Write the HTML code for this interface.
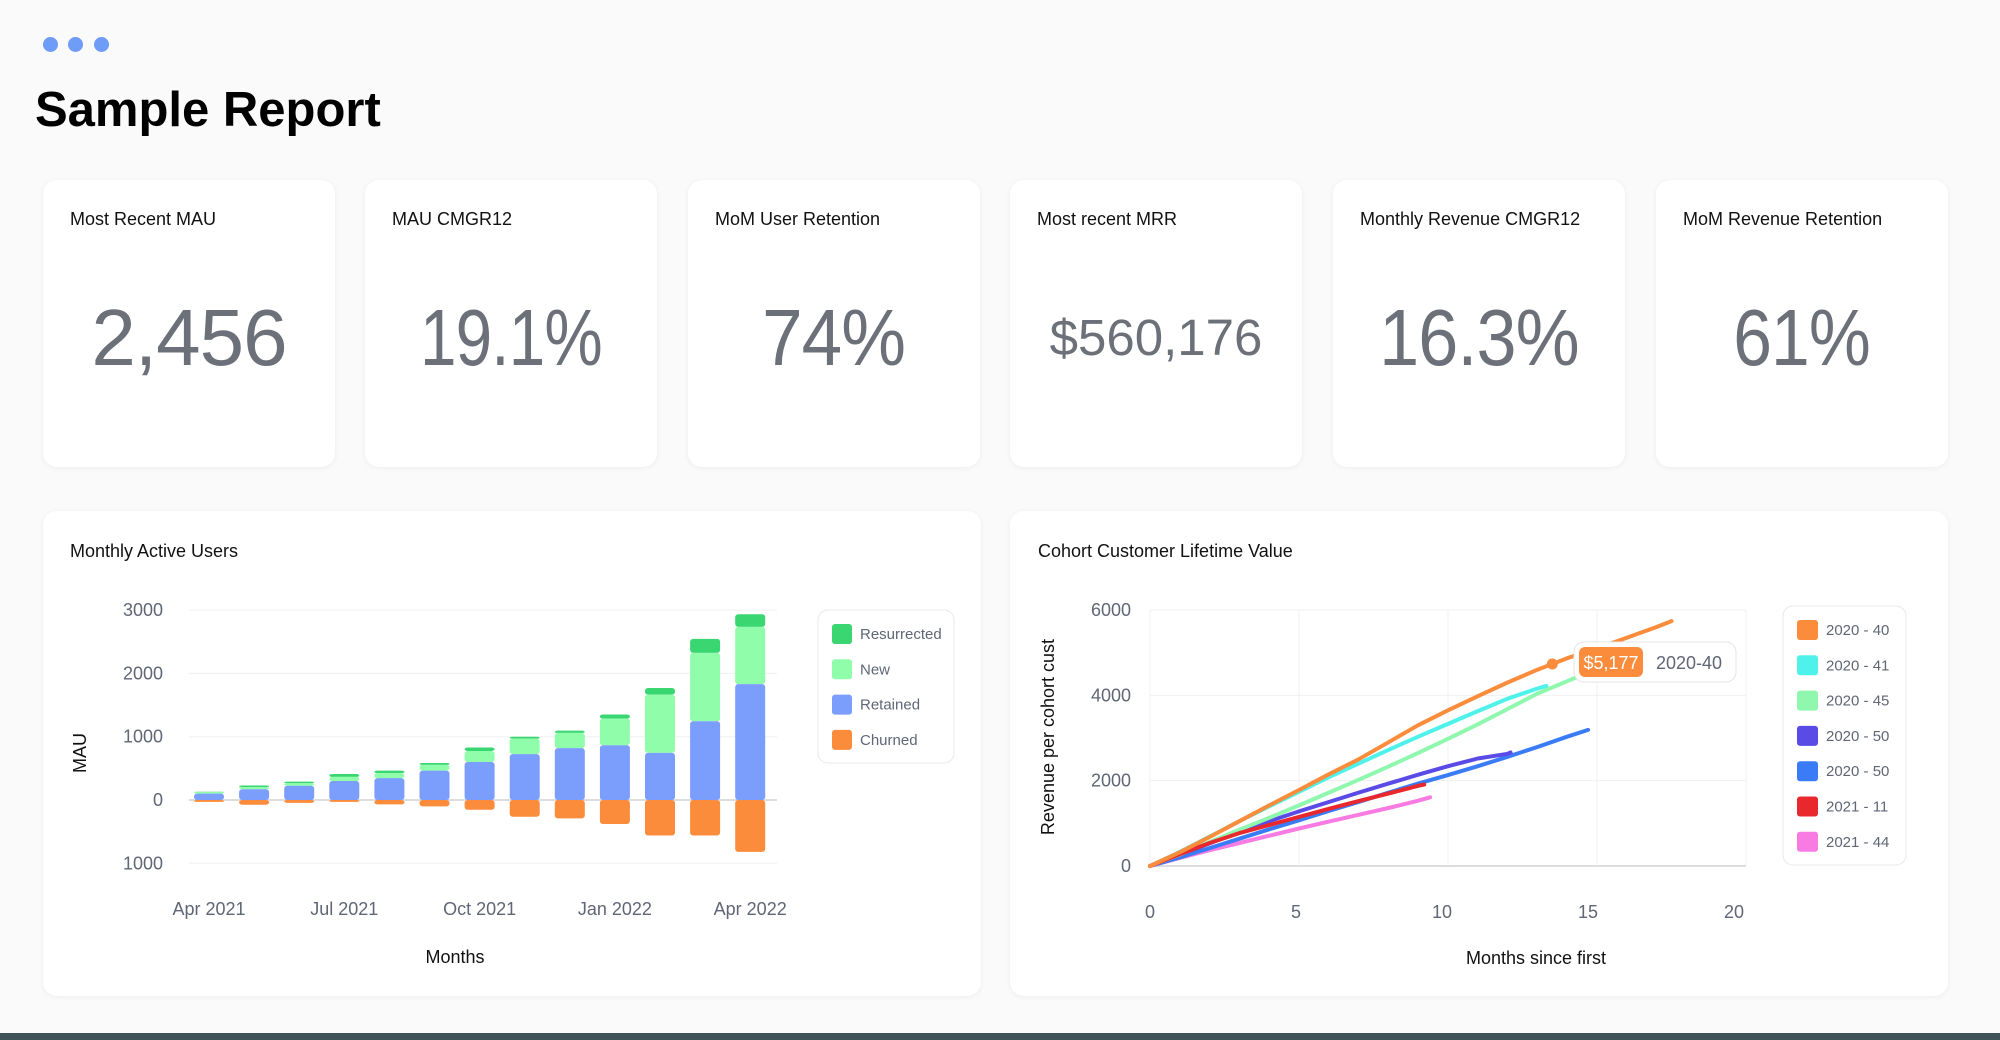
<!DOCTYPE html>
<html><head><meta charset="utf-8"><style>
body{margin:0;width:2000px;height:1040px;background:#fafafa;font-family:"Liberation Sans",sans-serif;position:relative;overflow:hidden}
.dot{position:absolute;top:37px;width:15px;height:15px;border-radius:50%;background:#6f9cf6}
.card{position:absolute;background:#fff;border-radius:14px;box-shadow:0 1px 6px rgba(0,0,0,0.06)}
.kpi{top:180px;width:292px;height:287px}
.kl{position:absolute;left:27px;top:29px;font-size:18px;color:#111}
.kv{position:absolute;left:0;right:0;top:288px;text-align:center;font-size:80px;color:#6b7079;letter-spacing:-1px;line-height:1}
.kv span{display:inline-block}
.ct{position:absolute;font-size:18px;color:#111}
svg{position:absolute;left:0;top:0}
</style></head><body>
<div class="dot" style="left:43px"></div>
<div class="dot" style="left:68px"></div>
<div class="dot" style="left:94px"></div>
<div style="position:absolute;left:35px;top:82px;font-size:49px;font-weight:bold;color:#000">Sample Report</div>

<div class="card kpi" style="left:43px"><div class="kl">Most Recent MAU</div><div class="kv" style="top:118px">2,456</div></div>
<div class="card kpi" style="left:365px"><div class="kl">MAU CMGR12</div><div class="kv" style="top:118px"><span style="transform:scaleX(0.82)">19.1%</span></div></div>
<div class="card kpi" style="left:688px"><div class="kl">MoM User Retention</div><div class="kv" style="top:118px"><span style="transform:scaleX(0.91)">74%</span></div></div>
<div class="card kpi" style="left:1010px"><div class="kl">Most recent MRR</div><div class="kv" style="top:132px;font-size:51px;letter-spacing:0">$560,176</div></div>
<div class="card kpi" style="left:1333px"><div class="kl">Monthly Revenue CMGR12</div><div class="kv" style="top:118px"><span style="transform:scaleX(0.9)">16.3%</span></div></div>
<div class="card kpi" style="left:1656px"><div class="kl">MoM Revenue Retention</div><div class="kv" style="top:118px"><span style="transform:scaleX(0.87)">61%</span></div></div>

<div class="card" style="left:43px;top:511px;width:938px;height:485px"></div>
<div class="card" style="left:1010px;top:511px;width:938px;height:485px"></div>
<div class="ct" style="left:70px;top:541px">Monthly Active Users</div>
<div class="ct" style="left:1038px;top:541px">Cohort Customer Lifetime Value</div>
<div style="position:absolute;left:0;top:1033px;width:2000px;height:7px;background:#3f5257"></div>

<svg id="chart" width="2000" height="1040"></svg>
<script>
// MAU chart data
const months = ["Apr 2021","May 2021","Jun 2021","Jul 2021","Aug 2021","Sep 2021","Oct 2021","Nov 2021","Dec 2021","Jan 2022","Feb 2022","Mar 2022","Apr 2022"];
const retained = [100,170,225,300,345,465,600,725,820,865,745,1245,1830];
const newUsers = [25,35,40,65,80,90,175,245,240,420,920,1080,905];
const resurrected = [5,25,25,45,40,30,55,30,35,65,105,220,200];
const churned = [-30,-75,-45,-30,-70,-100,-155,-265,-290,-380,-560,-560,-820];
const mauTicks = [3000,2000,1000,0,-1000];
const mauTickLabels = ["3000","2000","1000","0","1000"];
const xLabelIdx = [0,3,6,9,12];
// LTV chart data
const cohortNames = ["2020 - 40","2020 - 41","2020 - 45","2020 - 50","2020 - 50","2021 - 11","2021 - 44"];
const cohortColors = ["#fb8c3c","#4ef2ea","#8ff7ae","#5b4be6","#3a7bf6","#e8282d","#f77be2"];
const orangeX = [0,1,2,3,4,5,6,7,8,9,10,11,12,13,14,15,16,17,17.5];
const orangeY = [0,320,680,1050,1420,1780,2150,2500,2900,3300,3650,3980,4300,4600,4870,5100,5350,5600,5740];
const cyanX = [0,1,2,3,4,5,6,7,8,9,10,11,12,13,13.3];
const cyanY = [0,330,690,1050,1400,1740,2080,2400,2720,3030,3330,3630,3920,4160,4220];
const greenX = [0,1,2,3,4,5,6,7,8,9,10,11,12,13,14,14.4];
const greenY = [0,270,560,850,1130,1420,1720,2020,2330,2650,2980,3320,3680,4040,4330,4450];
const purpleX = [0,1,2,3,4,5,6,7,8,9,10,11,12,12.1];
const purpleY = [0,260,530,800,1050,1280,1500,1720,1930,2140,2340,2520,2630,2660];
const blueX = [0,1,2,3,4,5,6,7,8,9,10,11,12,13,14,14.7];
const blueY = [0,200,420,640,860,1070,1290,1500,1720,1930,2130,2340,2560,2790,3030,3190];
const redX = [0,1,2,3,4,5,6,7,8,9,9.2];
const redY = [0,280,540,770,960,1150,1340,1520,1700,1880,1910];
const pinkX = [0,1,2,3,4,5,6,7,8,9,9.4];
const pinkY = [0,190,370,540,710,880,1040,1200,1360,1530,1610];
const ltvYTicks = [0,2000,4000,6000];
const ltvXTicks = [0,5,10,15,20];
const tooltipMonth = 13.5, tooltipValue = "$5,177", tooltipLabel = "2020-40";

const svg = document.getElementById('chart');
const NS = 'http://www.w3.org/2000/svg';
function mk(tag, attrs, parent){const e=document.createElementNS(NS,tag);for(const k in attrs)e.setAttribute(k,attrs[k]);(parent||svg).appendChild(e);return e;}
function txt(x,y,s,attrs){const e=mk('text',Object.assign({x:x,y:y,'font-family':'Liberation Sans, sans-serif'},attrs));e.textContent=s;return e;}

// ---- MAU axes
const mY = v => 800 - v*0.0633;
const mX = i => 209 + i*45.1;
mauTicks.forEach((t,i)=>{
  const l=mk('line',{x1:189,x2:777,y1:mY(t),y2:mY(t),stroke:t===0?'#ddd':'#f0f0f0','stroke-width':t===0?2:1});
  
  
  const tl=txt(163,mY(t)+6,mauTickLabels[i],{'font-size':18,fill:'#5f6675','text-anchor':'end'});
  
  
});
const bw=30;
function seg(i,y0,y1,color,name){
  const top=Math.min(mY(y0),mY(y1)),h=Math.abs(mY(y0)-mY(y1));
  const r=mk('rect',{x:mX(i)-bw/2,y:top,width:bw,height:Math.max(h,0.5),rx:3,fill:color});
  
  
}
months.forEach((m,i)=>{
  seg(i,0,churned[i],'#fb8c3c','bar-churned');
  const a=retained[i],b=a+newUsers[i],c=b+resurrected[i];
  seg(i,b,c,'#3ad672','bar-resurrected');
  seg(i,a,b,'#8ffdaa','bar-new');
  seg(i,0,a,'#7b9dfb','bar-retained');
});
xLabelIdx.forEach(i=>{
  const t=txt(mX(i),915,months[i],{'font-size':18,fill:'#5f6675','text-anchor':'middle'});
  
  
});
let t=txt(455,963,'Months',{'font-size':18,fill:'#111','text-anchor':'middle'});


t=txt(0,0,'MAU',{'font-size':18,fill:'#111','text-anchor':'middle',transform:'translate(86,753) rotate(-90)'});


// MAU legend
let lg=mk('rect',{x:818,y:610,width:136,height:153,rx:10,fill:'#fff',stroke:'#e8e8e8'});


[['Resurrected','#3ad672'],['New','#8ffdaa'],['Retained','#7b9dfb'],['Churned','#fb8c3c']].forEach((d,i)=>{
  const y=634+i*35.3;
  const s=mk('rect',{x:832,y:y-10,width:20,height:20,rx:3,fill:d[1]});
  
  
  const l=txt(860,y+5,d[0],{'font-size':15,fill:'#5f6675'});
  
  
});

// ---- LTV axes
const lX = v => 1150 + v*29.8;
const lY = v => 866 - v*0.04267;
ltvXTicks.forEach(v=>{
  const g=mk('line',{x1:lX(v),x2:lX(v),y1:lY(6000),y2:lY(0),stroke:'#f0f0f0'});
  
  
  const l=txt(lX(v)-(v/5)*3,918,String(v),{'font-size':18,fill:'#5f6675','text-anchor':'middle'});
  
  
});
ltvYTicks.forEach(v=>{
  const g=mk('line',{x1:lX(0),x2:lX(20),y1:lY(v),y2:lY(v),stroke:v===0?'#ddd':'#f0f0f0','stroke-width':v===0?2:1});
  
  
  const l=txt(1131,lY(v)+6,String(v),{'font-size':18,fill:'#5f6675','text-anchor':'end'});
  
  
});
t=txt(1536,964,'Months since first',{'font-size':18,fill:'#111','text-anchor':'middle'});


t=txt(0,0,'Revenue per cohort cust',{'font-size':18,fill:'#111','text-anchor':'middle',transform:'translate(1054,737) rotate(-90)'});


const series=[[pinkX,pinkY,6],[blueX,blueY,4],[purpleX,purpleY,3],[greenX,greenY,2],[cyanX,cyanY,1],[redX,redY,5],[orangeX,orangeY,0]];
series.forEach(s=>{
  const d=s[0].map((x,i)=>(i?'L':'M')+lX(x).toFixed(1)+','+lY(s[1][i]).toFixed(1)).join(' ');
  const p=mk('path',{d:d,fill:'none',stroke:cohortColors[s[2]],'stroke-width':4,'stroke-linecap':'round','stroke-linejoin':'round'});
  
  
});
// tooltip point
function interp(xs,ys,x){for(let i=1;i<xs.length;i++){if(x<=xs[i]){const f=(x-xs[i-1])/(xs[i]-xs[i-1]);return ys[i-1]+f*(ys[i]-ys[i-1]);}}return ys[ys.length-1];}
const tv=interp(orangeX,orangeY,tooltipMonth);
let pt=mk('circle',{cx:lX(tooltipMonth),cy:lY(tv),r:5.5,fill:'#fb8c3c'});


let tb=mk('rect',{x:1574,y:642,width:162,height:40,rx:10,fill:'#fff',stroke:'#e4e4e4'});


let bd=mk('rect',{x:1579,y:647,width:64,height:30,rx:6,fill:'#fb8c3c'});


t=txt(1611,669,tooltipValue,{'font-size':18,fill:'#fff','text-anchor':'middle'});


t=txt(1656,669,tooltipLabel,{'font-size':18,fill:'#5f6675'});


// LTV legend
lg=mk('rect',{x:1783,y:606,width:123,height:259,rx:10,fill:'#fff',stroke:'#e8e8e8'});


cohortNames.forEach((n,i)=>{
  const y=630+i*35.3;
  const s=mk('rect',{x:1797,y:y-10,width:21,height:20,rx:3,fill:cohortColors[i]});
  
  
  const l=txt(1826,y+5,n,{'font-size':15,fill:'#5f6675'});
  
  
});
</script>
</body></html>
